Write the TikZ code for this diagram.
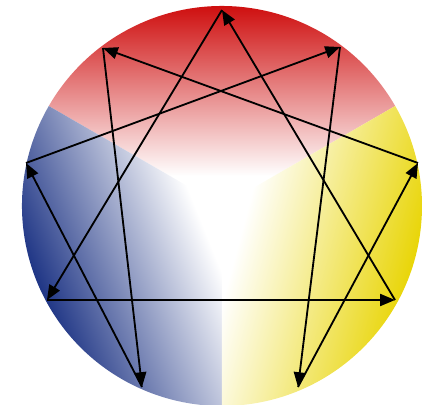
\documentclass[tikz,border=0pt]{standalone}
\usetikzlibrary{arrows.meta}
\definecolor{rimred}{RGB}{205,8,8}
\definecolor{rimblue}{RGB}{25,48,130}
\definecolor{rimyellow}{RGB}{232,212,0}
\begin{document}
\begin{tikzpicture}[x=0.025cm,y=0.025cm,
  arr/.style={line width=1.3pt,-{Triangle[length=10.5pt,width=8.5pt]}}]
\useasboundingbox (-222,-198) rectangle (208,206);
% red sector
\begin{scope}
  \clip (0,0) -- (30:200) arc (30:150:200) -- cycle;
  \shade[top color=rimred, middle color=rimred!50!white, bottom color=white] (-260,30) rectangle (260,205);
\end{scope}
% blue sector
\begin{scope}
  \clip (0,0) -- (150:200) arc (150:270:200) -- cycle;
  \begin{scope}[transform canvas={rotate around={112:(0,0)}}]
    \shade[top color=rimblue, middle color=rimblue!45!white, bottom color=white] (-260,25) rectangle (260,205);
  \end{scope}
\end{scope}
% yellow sector
\begin{scope}
  \clip (0,0) -- (270:200) arc (270:390:200) -- cycle;
  \begin{scope}[transform canvas={rotate around={-105:(0,0)}}]
    \shade[top color=rimyellow, middle color=rimyellow!55!white, bottom color=white] (-260,25) rectangle (260,205);
  \end{scope}
\end{scope}
% points
\coordinate (p9) at (0,196);
\coordinate (p1) at (118,159);
\coordinate (p2) at (196,43);
\coordinate (p3) at (173,-94);
\coordinate (p4) at (76,-181);
\coordinate (p5) at (-80,-181);
\coordinate (p6) at (-175,-94);
\coordinate (p7) at (-196,43);
\coordinate (p8) at (-119,158);
% triangle
\draw[arr] (p9) -- (p6);
\draw[arr] (p6) -- (p3);
\draw[arr] (p3) -- (p9);
% hexad
\draw[arr] (p1) -- (p4);
\draw[arr] (p4) -- (p2);
\draw[arr] (p2) -- (p8);
\draw[arr] (p8) -- (p5);
\draw[arr] (p5) -- (p7);
\draw[arr] (p7) -- (p1);
\end{tikzpicture}
\end{document}
